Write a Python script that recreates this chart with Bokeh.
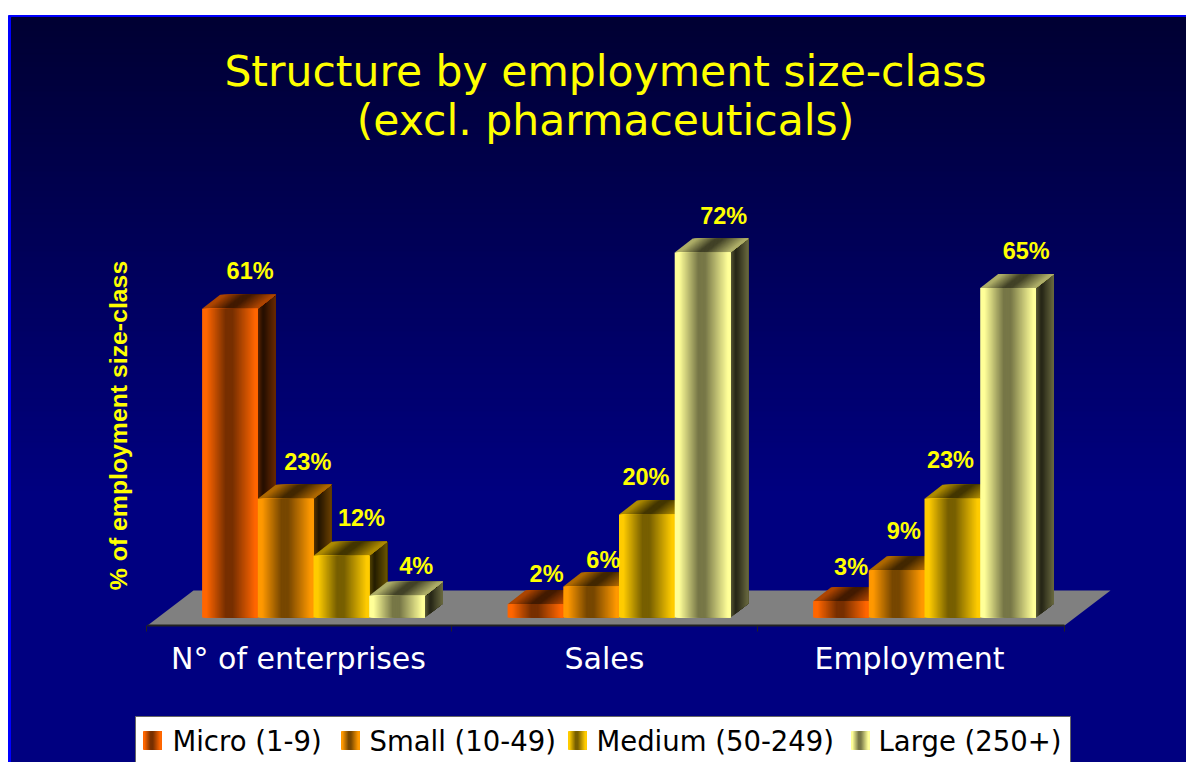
from bokeh.plotting import figure
from bokeh.models import Range1d
from bokeh.core.properties import value
from bokeh.embed import file_html
from bokeh.resources import INLINE

# ---------- data ----------
categories = ["N° of enterprises", "Sales", "Employment"]
series = ["Micro (1-9)", "Small (10-49)", "Medium (50-249)", "Large (250+)"]
micro = [60.9, 2.6, 3.2]
small = [23.4, 6.1, 9.3]
medium = [12.2, 20.3, 23.4]
large = [4.3, 72.0, 65.0]
micro_labels = ["61%", "2%", "3%"]
small_labels = ["23%", "6%", "9%"]
medium_labels = ["12%", "20%", "23%"]
large_labels = ["4%", "72%", "65%"]
series_colors = ["#ff6600", "#ff9900", "#ffcc00", "#ffff99"]
title_lines = ["Structure by employment size-class", "(excl. pharmaceuticals)"]
y_title = "% of employment size-class"

# ---------- layout ----------
W, H = 1186, 762
PX_PER_PCT = 5.07
PX_PER_GROUP = 305.5
BASE_PAGE_Y = 617
CENTER_PAGE_X = 313.0
BAR_W = 55.7
DX, DY = 18, 14
BASELINE_SHIFT = 0.34   # text sits this share of its size below the anchor

def gx(px):   # page x -> data x
    return (px - CENTER_PAGE_X) / PX_PER_GROUP
def gy(py):   # page y -> data y
    return (BASE_PAGE_Y - py) / PX_PER_PCT

p = figure(width=W, height=H, output_backend="svg", toolbar_location=None,
           x_range=Range1d(gx(0), gx(W)), y_range=Range1d(gy(H), gy(0)),
           min_border=0, background_fill_color="white", border_fill_color="white",
           outline_line_color=None)
p.axis.visible = False
p.grid.visible = False

def mix(c, f):
    r, g, b = int(c[1:3], 16), int(c[3:5], 16), int(c[5:7], 16)
    return "#%02x%02x%02x" % (int(r * f), int(g * f), int(b * f))

def shade(t, edge, dark):
    # bright at both edges, dark band just left of the centre
    if t < 0.08:
        d = 1.0
    elif t < 0.42:
        d = 1.0 - (t - 0.08) / 0.34
    elif t < 0.55:
        d = 0.0
    elif t < 0.95:
        d = (t - 0.55) / 0.40
    else:
        d = 1.0
    return dark + (edge - dark) * d

# background: blue frame and vertical gradient
p.quad(left=gx(8), right=gx(W), top=gy(15), bottom=gy(H), color="#0000ff")
BG_TOP, BG_H = 17, 480
steps = 78
for i in range(steps):
    y0 = BG_TOP + BG_H * i / steps
    b = int(0x33 + (0x80 - 0x33) * i / (steps - 1))
    p.quad(left=gx(11), right=gx(W), top=gy(y0), bottom=gy(H), color="#0000%02x" % b)

# floor
p.patch(x=[gx(147), gx(193), gx(1110), gx(1064)], y=[gy(625), gy(590), gy(590), gy(625)],
        fill_color="#808080", line_color=None)
p.line(x=[gx(147), gx(1064)], y=[gy(625), gy(625)], line_color="#222222", line_width=2)
for px in (146, 451, 757, 1064):
    p.segment(x0=[gx(px)], y0=[gy(625)], x1=[gx(px)], y1=[gy(631)], line_color="#222222", line_width=1)

# bars
def bar(left_x, width_x, val, color):
    dx = DX / PX_PER_GROUP
    dy = DY / PX_PER_PCT
    xs, ys, cs = [], [], []
    # side face
    n = 16
    for k in range(n):
        t0 = k / n
        tt = (k + .5) / n
        f = 0.14 + (0.42 - 0.14) * (tt - 0.3) / 0.7 if tt > 0.3 else 0.14 + (0.36 - 0.14) * (0.3 - tt) / 0.3
        x0, x1 = left_x + width_x + dx * t0, left_x + width_x + dx
        xs.append([x0, x1, x1, x0])
        ys.append([dy * t0, dy, val + dy, val + dy * t0])
        cs.append(mix(color, f))
    # top face
    n = 40
    for k in range(n):
        t0 = k / n
        f = shade((k + .5) / n, 0.68, 0.26)
        xa0, xa1 = left_x + width_x * t0, left_x + width_x
        xs.append([xa0, xa1, xa1 + dx, xa0 + dx])
        ys.append([val, val, val + dy, val + dy])
        cs.append(mix(color, f))
    # front face
    n = 56
    for k in range(n):
        t0 = k / n
        f = shade((k + .5) / n, 1.0, 0.47)
        xa0, xa1 = left_x + width_x * t0, left_x + width_x
        xs.append([xa0, xa1, xa1, xa0])
        ys.append([0, 0, val, val])
        cs.append(mix(color, f))
    p.patches(xs=xs, ys=ys, fill_color=cs, line_color=None)

all_vals = [micro, small, medium, large]
all_labels = [micro_labels, small_labels, medium_labels, large_labels]
# label offsets from each bar, pixels: to the right of its left edge, above its front top
label_dx = [[48, 39, 38], [50, 40, 35], [48, 27, 26], [47, 49, 46]]
label_dy = [[30, 22, 26], [29, 19, 31], [30, 30, 31], [22, 28, 29]]
bw = BAR_W / PX_PER_GROUP
LABEL_FONT = value("Liberation Sans")
LABEL_SIZE = 23.5
for g in range(len(categories)):
    for s in range(len(series)):
        bar(g + (s - 2) * bw, bw, all_vals[s][g], series_colors[s])
for g in range(len(categories)):
    for s in range(len(series)):
        lx = g + (s - 2) * bw + label_dx[s][g] / PX_PER_GROUP
        ly = all_vals[s][g] + (label_dy[s][g] + BASELINE_SHIFT * LABEL_SIZE) / PX_PER_PCT
        p.text(x=[lx], y=[ly], text=[all_labels[s][g]], text_color="#ffff00", text_font=LABEL_FONT,
               text_font_style="bold", text_font_size=f"{LABEL_SIZE}px", text_align="center", text_baseline="alphabetic")

# category labels
cat_px = [298, 604, 909]
CAT_SIZE = 30
for c, px in zip(categories, cat_px):
    p.text(x=[gx(px)], y=[gy(668 - BASELINE_SHIFT * CAT_SIZE)], text=[c], text_color="white", text_font=value("DejaVu Sans"),
           text_font_size=f"{CAT_SIZE}px", text_align="center", text_baseline="alphabetic")

# title
TITLE_SIZE = 42.5
for line, py in zip(title_lines, (85, 134)):
    p.text(x=[gx(605)], y=[gy(py - BASELINE_SHIFT * TITLE_SIZE)], text=[line], text_color="#ffff00", text_font=value("DejaVu Sans"),
           text_font_size=f"{TITLE_SIZE}px", text_align="center", text_baseline="alphabetic")

# y title
Y_SIZE = 24.8
p.text(x=[gx(126 - BASELINE_SHIFT * Y_SIZE)], y=[gy(425)], text=[y_title], text_color="#ffff00", text_font=LABEL_FONT,
       text_font_style="bold", text_font_size=f"{Y_SIZE}px", text_align="center", text_baseline="alphabetic",
       angle=1.5708)

# legend
p.quad(left=gx(135), right=gx(1070), top=gy(716), bottom=gy(H + 3), fill_color="white",
       line_color="#666666", line_width=1)
sw_px = [143, 341, 568, 851]
tx_px = [172, 369, 596, 878]
LEG_SIZE = 27.5
for s, name in enumerate(series):
    n = 18
    for k in range(n):
        f = shade((k + .5) / n, 1.0, 0.47)
        p.quad(left=gx(sw_px[s] + 18 * k / n), right=gx(sw_px[s] + 18),
               top=gy(731), bottom=gy(749), color=mix(series_colors[s], f))
    p.text(x=[gx(tx_px[s])], y=[gy(750 - BASELINE_SHIFT * LEG_SIZE)], text=[name], text_color="black", text_font=value("DejaVu Sans"),
           text_font_size=f"{LEG_SIZE}px", text_align="left", text_baseline="alphabetic")

open("out.html", "w").write(file_html(p, INLINE))
